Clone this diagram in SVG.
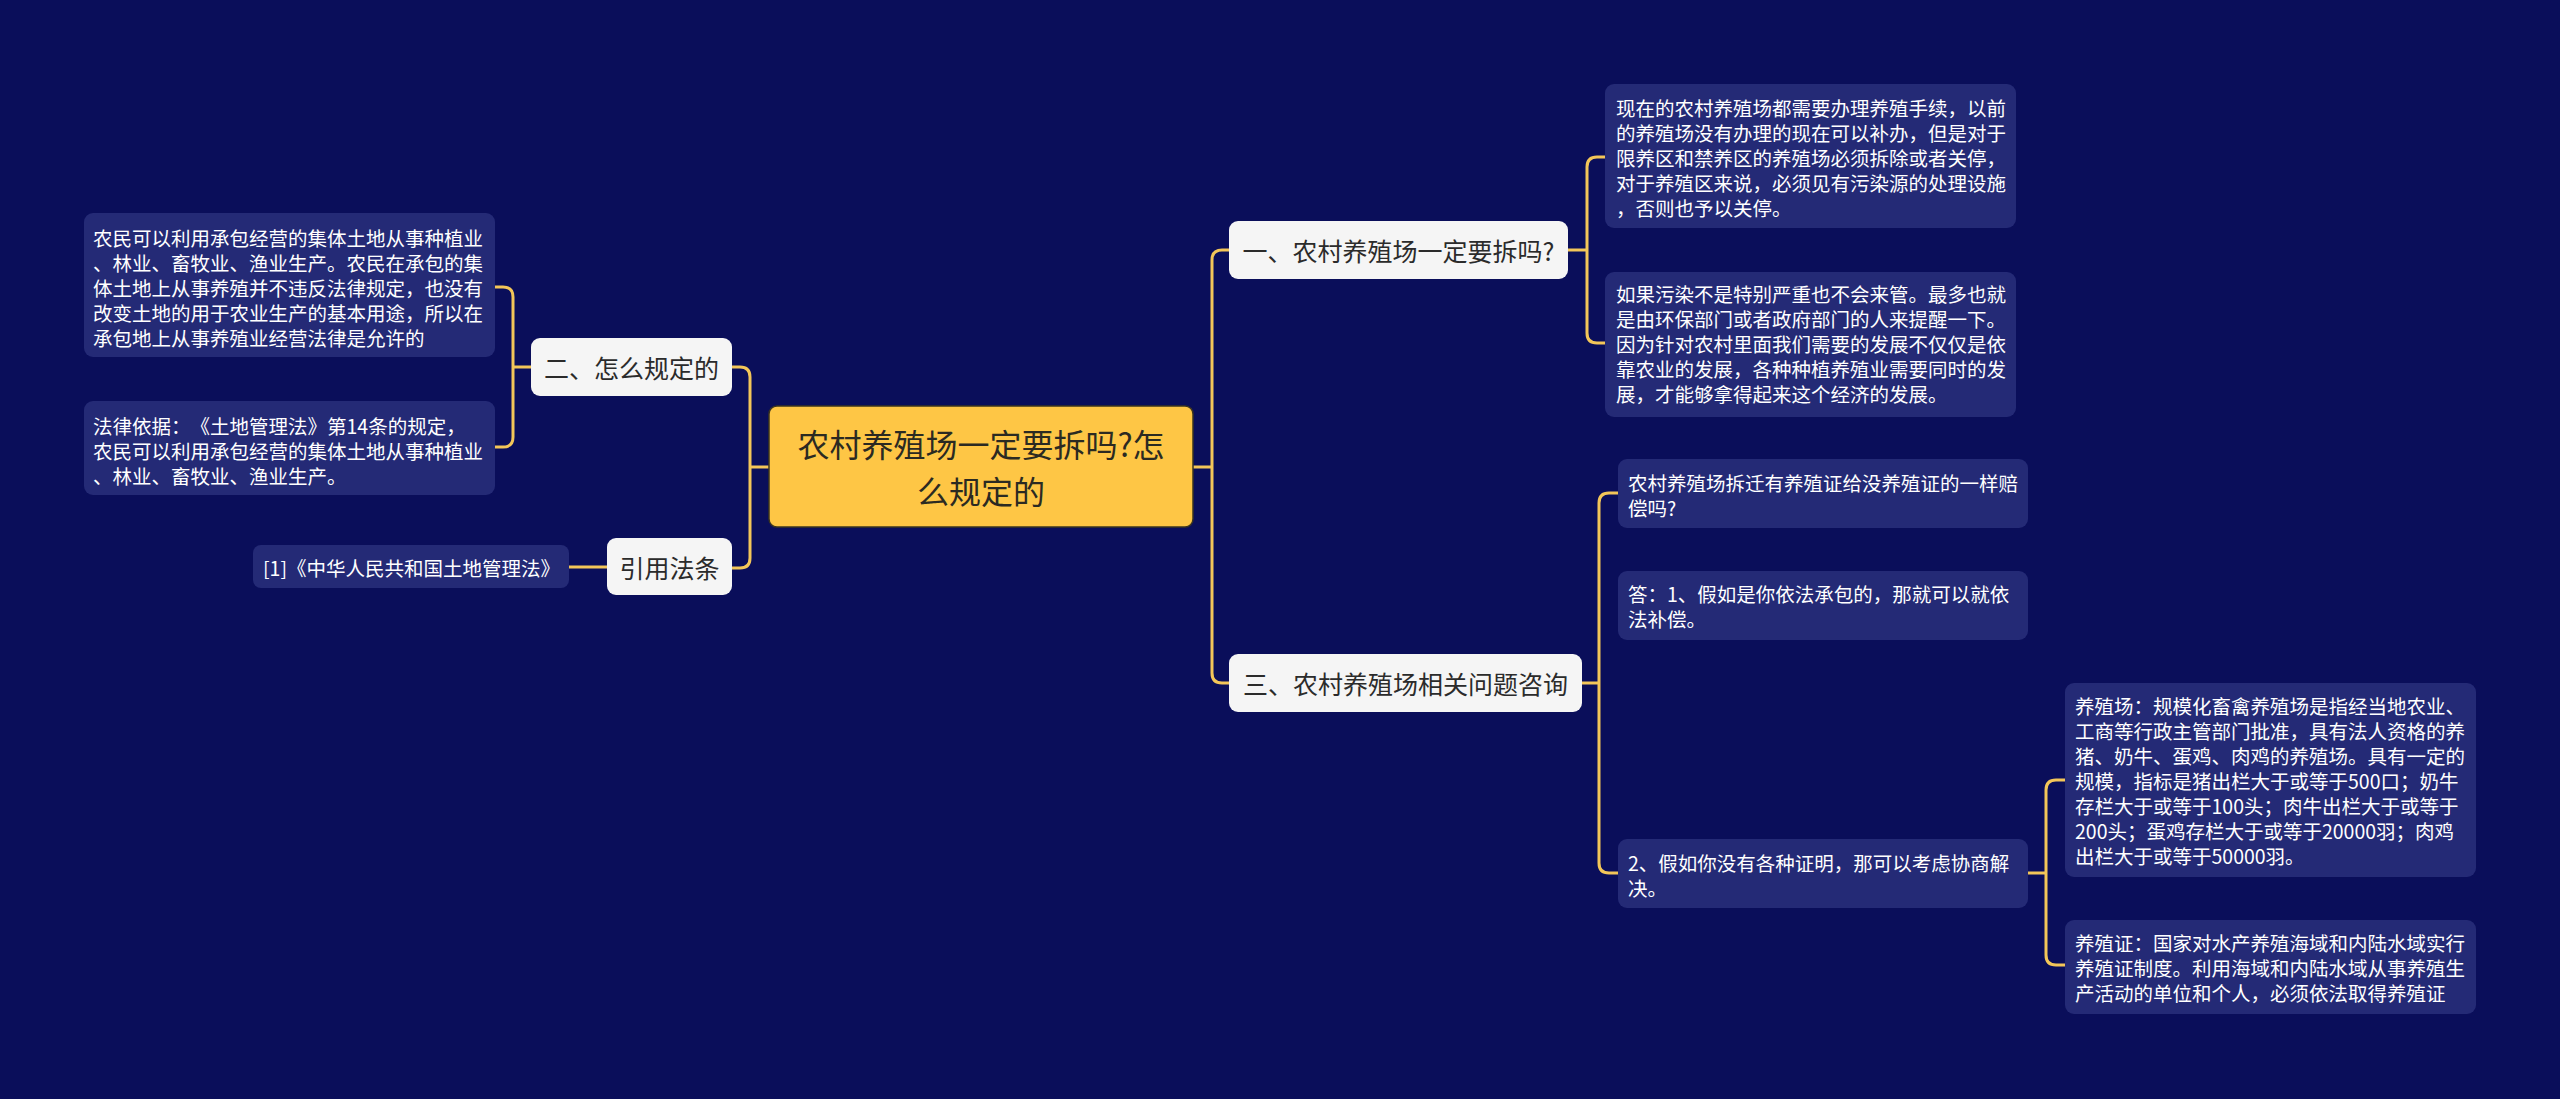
<svg xmlns="http://www.w3.org/2000/svg" width="2560" height="1099" viewBox="0 0 2560 1099">
<style>
text{text-spacing-trim:space-all}
.bg{fill:#0a0e5a}
.leaf{fill:#242a76}
.sub{fill:#f5f5f5}
.root{fill:#fec645;stroke:#3a3420;stroke-width:1.5}
.lt{font-family:"Noto Sans CJK SC","Noto Sans",sans-serif;font-size:19.5px;fill:#ffffff;dominant-baseline:central}
.st{font-family:"Noto Sans CJK SC","Noto Sans",sans-serif;font-size:25px;fill:#2b2b2b;dominant-baseline:central;text-anchor:middle}
.rt{font-family:"Noto Sans CJK SC","Noto Sans",sans-serif;font-size:32px;fill:#2b2a22;dominant-baseline:central;text-anchor:middle}
.c{fill:none;stroke:#f3c659;stroke-width:3}
</style>
<rect class="bg" x="0" y="0" width="2560" height="1099"/>
<g id="connectors">
<path class="c" d="M769,467 H750"/>
<path class="c" d="M732,367 H740 Q750,367 750,377 V558 Q750,568 740,568 H732"/>
<path class="c" d="M531,367 H513"/>
<path class="c" d="M495,287 H503 Q513,287 513,297 V437 Q513,447 503,447 H495"/>
<path class="c" d="M607,567 H569"/>
<path class="c" d="M1193,467 H1212"/>
<path class="c" d="M1229,250 H1222 Q1212,250 1212,260 V673 Q1212,683 1222,683 H1229"/>
<path class="c" d="M1568,250 H1587"/>
<path class="c" d="M1605,157 H1597 Q1587,157 1587,167 V333 Q1587,343 1597,343 H1605"/>
<path class="c" d="M1582,683 H1599"/>
<path class="c" d="M1618,493 H1609 Q1599,493 1599,503 V863 Q1599,873 1609,873 H1618"/>
<path class="c" d="M2028,873 H2046"/>
<path class="c" d="M2065,780 H2056 Q2046,780 2046,790 V955 Q2046,965 2056,965 H2065"/>
</g>
<g id="root">
<rect class="root" x="769" y="406" width="424" height="121" rx="8"/>
<text class="rt" x="981" y="443">农村养殖场一定要拆吗?怎</text>
<text class="rt" x="981" y="490">么规定的</text>
</g>
<g id="n-how">
<rect class="sub" x="531" y="338" width="201" height="58" rx="9"/>
<text class="st" x="631.5" y="367">二、怎么规定的</text>
</g>
<g id="n-cite">
<rect class="sub" x="607" y="538" width="125" height="57" rx="9"/>
<text class="st" x="669.5" y="567">引用法条</text>
</g>
<g id="n-one">
<rect class="sub" x="1229" y="221" width="339" height="58" rx="9"/>
<text class="st" x="1398.5" y="250">一、农村养殖场一定要拆吗?</text>
</g>
<g id="n-three">
<rect class="sub" x="1229" y="654" width="353" height="58" rx="9"/>
<text class="st" x="1405.5" y="683">三、农村养殖场相关问题咨询</text>
</g>
<g id="l-how1">
<rect class="leaf" x="84" y="213" width="411" height="144" rx="9"/>
<text class="lt" x="93" y="237">农民可以利用承包经营的集体土地从事种植业</text>
<text class="lt" x="93" y="262">、林业、畜牧业、渔业生产。农民在承包的集</text>
<text class="lt" x="93" y="287">体土地上从事养殖并不违反法律规定，也没有</text>
<text class="lt" x="93" y="312">改变土地的用于农业生产的基本用途，所以在</text>
<text class="lt" x="93" y="337">承包地上从事养殖业经营法律是允许的</text>
</g>
<g id="l-how2">
<rect class="leaf" x="84" y="401" width="411" height="94" rx="9"/>
<text class="lt" x="93" y="425">法律依据：《土地管理法》第14条的规定，</text>
<text class="lt" x="93" y="450">农民可以利用承包经营的集体土地从事种植业</text>
<text class="lt" x="93" y="475">、林业、畜牧业、渔业生产。</text>
</g>
<g id="l-cite">
<rect class="leaf" x="253" y="545" width="316" height="43" rx="8"/>
<text class="lt" x="263" y="567">[1]《中华人民共和国土地管理法》</text>
</g>
<g id="l-one1">
<rect class="leaf" x="1605" y="84" width="411" height="144" rx="9"/>
<text class="lt" x="1616" y="107">现在的农村养殖场都需要办理养殖手续，以前</text>
<text class="lt" x="1616" y="132">的养殖场没有办理的现在可以补办，但是对于</text>
<text class="lt" x="1616" y="157">限养区和禁养区的养殖场必须拆除或者关停，</text>
<text class="lt" x="1616" y="182">对于养殖区来说，必须见有污染源的处理设施</text>
<text class="lt" x="1616" y="207">，否则也予以关停。</text>
</g>
<g id="l-one2">
<rect class="leaf" x="1605" y="272" width="411" height="145" rx="9"/>
<text class="lt" x="1616" y="293">如果污染不是特别严重也不会来管。最多也就</text>
<text class="lt" x="1616" y="318">是由环保部门或者政府部门的人来提醒一下。</text>
<text class="lt" x="1616" y="343">因为针对农村里面我们需要的发展不仅仅是依</text>
<text class="lt" x="1616" y="368">靠农业的发展，各种种植养殖业需要同时的发</text>
<text class="lt" x="1616" y="393">展，才能够拿得起来这个经济的发展。</text>
</g>
<g id="l-q1">
<rect class="leaf" x="1618" y="459" width="410" height="69" rx="9"/>
<text class="lt" x="1628" y="482">农村养殖场拆迁有养殖证给没养殖证的一样赔</text>
<text class="lt" x="1628" y="507">偿吗?</text>
</g>
<g id="l-q2">
<rect class="leaf" x="1618" y="571" width="410" height="69" rx="9"/>
<text class="lt" x="1628" y="593">答：1、假如是你依法承包的，那就可以就依</text>
<text class="lt" x="1628" y="618">法补偿。</text>
</g>
<g id="l-q3">
<rect class="leaf" x="1618" y="839" width="410" height="69" rx="9"/>
<text class="lt" x="1628" y="862">2、假如你没有各种证明，那可以考虑协商解</text>
<text class="lt" x="1628" y="887">决。</text>
</g>
<g id="l-c1">
<rect class="leaf" x="2065" y="683" width="411" height="194" rx="9"/>
<text class="lt" x="2075" y="705">养殖场：规模化畜禽养殖场是指经当地农业、</text>
<text class="lt" x="2075" y="730">工商等行政主管部门批准，具有法人资格的养</text>
<text class="lt" x="2075" y="755">猪、奶牛、蛋鸡、肉鸡的养殖场。具有一定的</text>
<text class="lt" x="2075" y="780">规模，指标是猪出栏大于或等于500口；奶牛</text>
<text class="lt" x="2075" y="805">存栏大于或等于100头；肉牛出栏大于或等于</text>
<text class="lt" x="2075" y="830">200头；蛋鸡存栏大于或等于20000羽；肉鸡</text>
<text class="lt" x="2075" y="855">出栏大于或等于50000羽。</text>
</g>
<g id="l-c2">
<rect class="leaf" x="2065" y="920" width="411" height="94" rx="9"/>
<text class="lt" x="2075" y="942">养殖证：国家对水产养殖海域和内陆水域实行</text>
<text class="lt" x="2075" y="967">养殖证制度。利用海域和内陆水域从事养殖生</text>
<text class="lt" x="2075" y="992">产活动的单位和个人，必须依法取得养殖证</text>
</g>
</svg>
